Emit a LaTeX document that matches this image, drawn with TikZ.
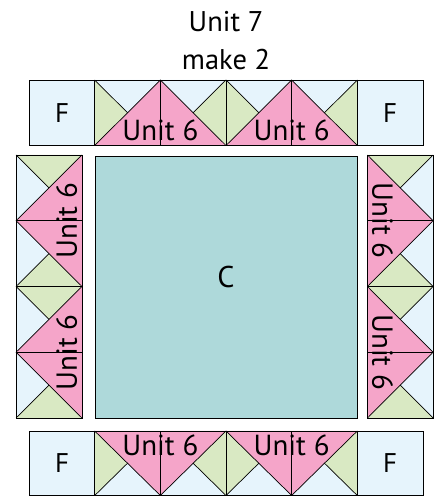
\documentclass[tikz,border=0pt]{standalone}
\usepackage{fontspec}
\setmainfont{PT Sans}
\definecolor{qblue}{HTML}{E6F4FC}
\definecolor{qgreen}{HTML}{D9E9C3}
\definecolor{qpink}{HTML}{F5A5C9}
\definecolor{qteal}{HTML}{AED9DA}
\tikzset{
  seam/.style={draw=black, line width=0.7pt, line join=miter},
  unitlabel/.style={font=\fontsize{29}{29}\selectfont, inner sep=0pt},
  flabel/.style={font=\fontsize{27}{27}\selectfont, inner sep=0pt},
  clabel/.style={font=\fontsize{30}{30}\selectfont, inner sep=0pt},
  titlelabel/.style={font=\fontsize{28.5}{28.5}\selectfont, inner sep=0pt, anchor=base},
  fbox/.style={seam, fill=qblue},
}
% #1 origin, #2 x-vector (along unit), #3 y-vector (inward), #4 text rotation, #5 name
\newcommand{\unitsix}[5]{%
  \begin{scope}[shift={#1}, x={#2}, y={#3}]
    \fill[qblue] (0,0) -- (1,0) -- (0.5,0.5) -- cycle;
    \fill[qblue] (1,0) -- (2,0) -- (1.5,0.5) -- cycle;
    \fill[qgreen] (0,0) -- (0.5,0.5) -- (0,1) -- cycle;
    \fill[qgreen] (2,0) -- (2,1) -- (1.5,0.5) -- cycle;
    \fill[qpink] (1,0) -- (2,1) -- (0,1) -- cycle;
    \draw[seam] (0,0) rectangle (2,1);
    \draw[seam] (1,0) -- (1,1);
    \draw[seam] (0,1) -- (1,0) -- (2,1);
    \draw[seam] (0,0) -- (0.5,0.5);
    \draw[seam] (2,0) -- (1.5,0.5);
    \node[unitlabel, rotate=#4] (#5) at (1,0.77) {Unit 6};
  \end{scope}}
\begin{document}
\begin{tikzpicture}
  \useasboundingbox (0pt,0pt) rectangle (440pt,496pt);
  % title
  \node[titlelabel] (title1) at (226pt,464pt) {Unit 7};
  \node[titlelabel] (title2) at (226pt,426pt) {make 2};
  % top row
  \draw[fbox] (29pt,350.5pt) rectangle (94.7pt,416pt);
  \node[flabel] (ftl) at (62pt,383.2pt) {F};
  \draw[fbox] (357.3pt,350.5pt) rectangle (423pt,416pt);
  \node[flabel] (ftr) at (390.2pt,383.2pt) {F};
  \unitsix{(94.7pt,416pt)}{(65.65pt,0pt)}{(0pt,-65.5pt)}{0}{ut1}
  \unitsix{(226pt,416pt)}{(65.65pt,0pt)}{(0pt,-65.5pt)}{0}{ut2}
  % bottom row
  \draw[fbox] (29pt,0.5pt) rectangle (94.7pt,65pt);
  \node[flabel] (fbl) at (62pt,32.8pt) {F};
  \draw[fbox] (357.3pt,0.5pt) rectangle (423pt,65pt);
  \node[flabel] (fbr) at (390.2pt,32.8pt) {F};
  \unitsix{(94.7pt,0.5pt)}{(65.65pt,0pt)}{(0pt,64.5pt)}{0}{ub1}
  \unitsix{(226pt,0.5pt)}{(65.65pt,0pt)}{(0pt,64.5pt)}{0}{ub2}
  % left column
  \unitsix{(16pt,78pt)}{(0pt,65.75pt)}{(66pt,0pt)}{90}{ul1}
  \unitsix{(16pt,209.5pt)}{(0pt,65.75pt)}{(66pt,0pt)}{90}{ul2}
  % right column
  \unitsix{(433pt,341pt)}{(0pt,-65.75pt)}{(-65.5pt,0pt)}{-90}{ur1}
  \unitsix{(433pt,209.5pt)}{(0pt,-65.75pt)}{(-65.5pt,0pt)}{-90}{ur2}
  % centre
  \draw[seam, fill=qteal] (95pt,78pt) rectangle (357pt,340pt);
  \node[clabel] (c) at (226pt,219pt) {C};
\end{tikzpicture}
\end{document}
